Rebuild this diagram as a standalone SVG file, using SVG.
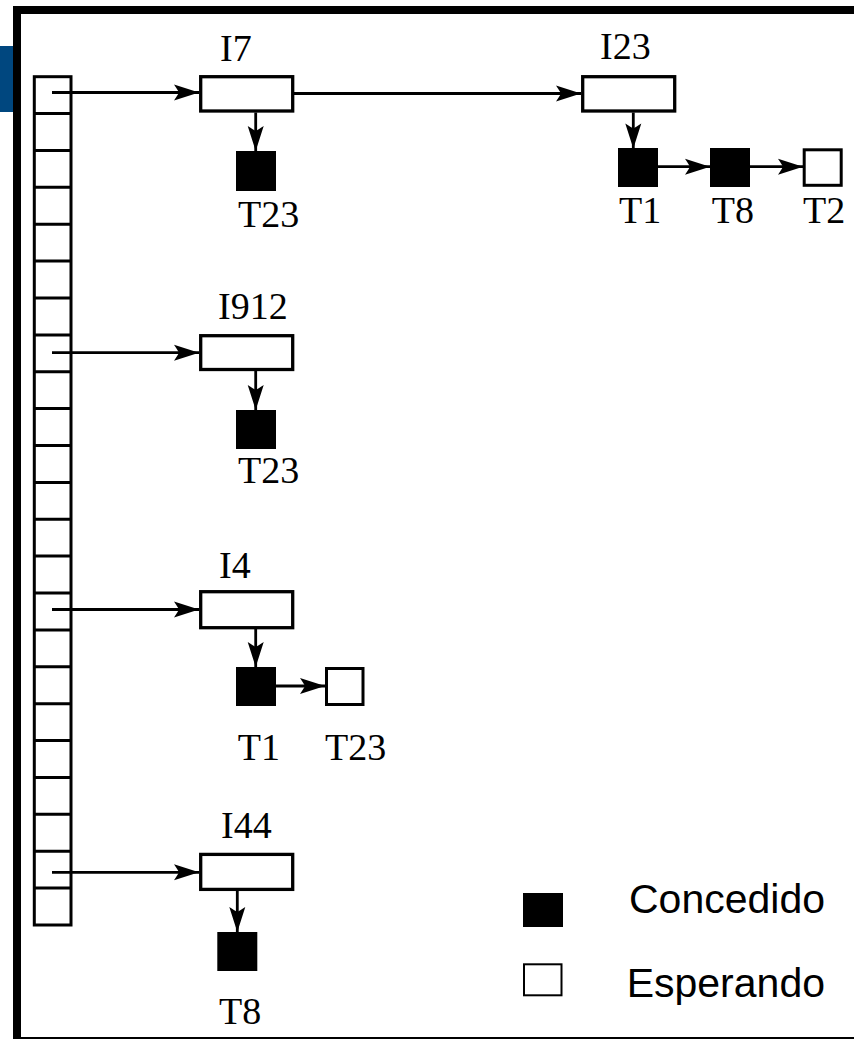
<svg xmlns="http://www.w3.org/2000/svg" width="854" height="1039" viewBox="0 0 854 1039">
  <style>
    .frame { fill: #000; }
    .cell { fill: #fff; stroke: #000; stroke-width: 3; }
    .item { fill: #fff; stroke: #000; stroke-width: 3.3; }
    .granted { fill: #000; }
    .waiting { fill: #fff; stroke: #000; stroke-width: 3; }
    .link { fill: none; stroke: #000; stroke-width: 2.8; marker-end: url(#head); }
    .lbl { font-family: "Liberation Serif", "Times New Roman", serif; font-size: 38px; fill: #000; }
    .key { font-family: "Liberation Sans", Arial, sans-serif; font-size: 41px; fill: #000; text-anchor: end; }
  </style>
  <defs>
    <marker id="head" markerUnits="userSpaceOnUse" markerWidth="28" markerHeight="18" viewBox="-26 -9 28 18" refX="0" refY="0" orient="auto">
      <path d="M0,0 L-25,-8 Q-21,-2 -20,0 Q-21,2 -25,8 Z" fill="#000"/>
    </marker>
  </defs>

  <rect width="854" height="1039" fill="#fff"/>

  <!-- slide frame -->
  <g id="frame">
    <rect x="0" y="46" width="13" height="66" fill="#00477f"/>
    <rect class="frame" x="13" y="6" width="841" height="8"/>
    <rect class="frame" x="13" y="6" width="8" height="1033"/>
    <rect class="frame" x="13" y="1037" width="841" height="2"/>
  </g>

  <!-- hash table: 23 buckets -->
  <g id="hash-table">
    <rect class="cell" x="34.3" y="76.7" width="36.7" height="848.3"/>
    <path d="M34.3,113.6H71 M34.3,150.5H71 M34.3,187.3H71 M34.3,224.2H71 M34.3,261.1H71 M34.3,298H71 M34.3,334.9H71 M34.3,371.7H71 M34.3,408.6H71 M34.3,445.5H71 M34.3,482.4H71 M34.3,519.3H71 M34.3,556.1H71 M34.3,593H71 M34.3,629.9H71 M34.3,666.8H71 M34.3,703.7H71 M34.3,740.5H71 M34.3,777.4H71 M34.3,814.3H71 M34.3,851.2H71 M34.3,888.1H71" stroke="#000" stroke-width="3" fill="none"/>
  </g>

  <!-- connectors -->
  <g id="connectors">
    <path class="link" d="M52,92.5H199"/>
    <path class="link" d="M294,93.5H581"/>
    <path class="link" d="M255.7,112.5V151"/>
    <path class="link" d="M633.3,112.5V148.5"/>
    <path class="link" d="M658,166.7H710"/>
    <path class="link" d="M750,166.7H803"/>
    <path class="link" d="M52,352.7H199"/>
    <path class="link" d="M255.7,371V410"/>
    <path class="link" d="M52,609.5H199"/>
    <path class="link" d="M255.7,629V667"/>
    <path class="link" d="M276,686H325"/>
    <path class="link" d="M52,872.3H199"/>
    <path class="link" d="M237.3,891V932"/>
  </g>

  <!-- data item I7 -->
  <g id="I7">
    <text class="lbl" x="220" y="61">I7</text>
    <rect class="item" x="200.7" y="76.7" width="92" height="34.3"/>
    <rect class="granted" x="236" y="151" width="40" height="40"/>
    <text class="lbl" x="238" y="226.7">T23</text>
  </g>

  <!-- data item I23 -->
  <g id="I23">
    <text class="lbl" x="600" y="59">I23</text>
    <rect class="item" x="582.7" y="76.7" width="92" height="34.3"/>
    <rect class="granted" x="618" y="148" width="40" height="39"/>
    <text class="lbl" x="619" y="223.3">T1</text>
    <rect class="granted" x="710" y="148" width="40" height="39"/>
    <text class="lbl" x="711.7" y="223.3">T8</text>
    <rect class="waiting" x="804.2" y="149.8" width="37" height="35.5"/>
    <text class="lbl" x="803" y="223.3">T2</text>
  </g>

  <!-- data item I912 -->
  <g id="I912">
    <text class="lbl" x="218" y="319">I912</text>
    <rect class="item" x="200.7" y="335.7" width="92" height="33.8"/>
    <rect class="granted" x="236" y="410" width="40" height="39"/>
    <text class="lbl" x="238" y="483">T23</text>
  </g>

  <!-- data item I4 -->
  <g id="I4">
    <text class="lbl" x="219" y="578.3">I4</text>
    <rect class="item" x="200.7" y="591.7" width="92" height="36"/>
    <rect class="granted" x="236" y="667" width="40" height="39"/>
    <text class="lbl" x="237.7" y="760">T1</text>
    <rect class="waiting" x="326.5" y="668.5" width="36.5" height="36"/>
    <text class="lbl" x="325" y="760">T23</text>
  </g>

  <!-- data item I44 -->
  <g id="I44">
    <text class="lbl" x="221" y="838.3">I44</text>
    <rect class="item" x="200.7" y="854.4" width="92" height="35"/>
    <rect class="granted" x="217.3" y="932" width="40" height="39"/>
    <text class="lbl" x="219" y="1024">T8</text>
  </g>

  <!-- key -->
  <g id="legend">
    <rect class="granted" x="523" y="893" width="40" height="34"/>
    <text class="key" x="825" y="913.3">Concedido</text>
    <rect x="524" y="964.3" width="37.5" height="31" fill="#fff" stroke="#000" stroke-width="2"/>
    <text class="key" x="825" y="997.3">Esperando</text>
  </g>
</svg>
